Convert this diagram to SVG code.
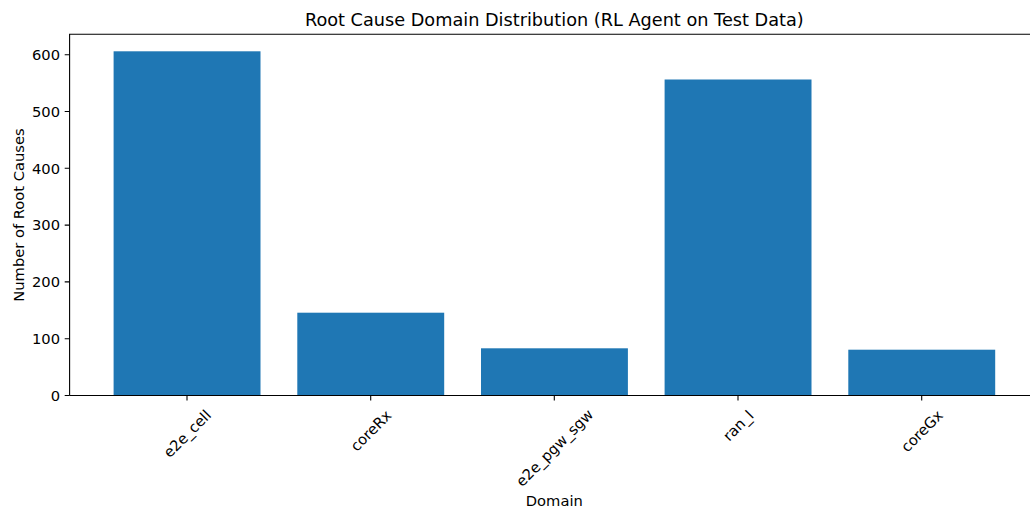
<svg xmlns="http://www.w3.org/2000/svg" width="1030" height="512" viewBox="0 0 1030 512">
<style>
text{font-family:"DejaVu Sans","Liberation Sans",sans-serif;fill:#000}
.yt{font-size:14.7px;text-anchor:end}
.xt{font-size:14.7px;text-anchor:middle;dominant-baseline:central}
.bar{fill:#1f77b4}
.ax{stroke:#000;stroke-width:1.1;fill:none}
</style>
<rect width="1030" height="512" fill="#fff"/>
<g id="bars">
<rect class="bar" x="113.6" y="51.3" width="146.9" height="344.2"/>
<rect class="bar" x="297.3" y="312.7" width="146.9" height="82.8"/>
<rect class="bar" x="481" y="348.3" width="146.9" height="47.2"/>
<rect class="bar" x="664.6" y="79.5" width="146.9" height="316"/>
<rect class="bar" x="848.3" y="349.7" width="146.9" height="45.8"/>
</g>
<g id="axes">
<path class="ax" d="M69.6 395.5V34.2H1031M69.6 395.5H1031"/>
<path class="ax" d="M69.6 395.5h-4.9M69.6 338.7h-4.9M69.6 281.9h-4.9M69.6 225.1h-4.9M69.6 168.3h-4.9M69.6 111.5h-4.9M69.6 54.7h-4.9"/>
<path class="ax" d="M187 395.5v4.9M370.7 395.5v4.9M554.3 395.5v4.9M738 395.5v4.9M921.7 395.5v4.9"/>
</g>
<g id="ylabels">
<text class="yt" x="60" y="400.8">0</text>
<text class="yt" x="60" y="344">100</text>
<text class="yt" x="60" y="287.2">200</text>
<text class="yt" x="60" y="230.4">300</text>
<text class="yt" x="60" y="173.6">400</text>
<text class="yt" x="60" y="116.8">500</text>
<text class="yt" x="60" y="60">600</text>
</g>
<g id="xlabels">
<text class="xt" x="187" y="433.5" transform="rotate(-45 187 433.5)">e2e_cell</text>
<text class="xt" x="370.7" y="430.5" transform="rotate(-45 370.7 430.5)">coreRx</text>
<text class="xt" x="554.3" y="447.5" transform="rotate(-45 554.3 447.5)">e2e_pgw_sgw</text>
<text class="xt" x="738" y="425.4" transform="rotate(-45 738 425.4)">ran_l</text>
<text class="xt" x="921.7" y="430.8" transform="rotate(-45 921.7 430.8)">coreGx</text>
</g>
<text x="554.3" y="506" font-size="14.7" text-anchor="middle">Domain</text>
<text x="0" y="0" font-size="14.7" text-anchor="middle" transform="translate(24 215) rotate(-90)">Number of Root Causes</text>
<text x="554.3" y="26" font-size="17.7" text-anchor="middle">Root Cause Domain Distribution (RL Agent on Test Data)</text>
</svg>
